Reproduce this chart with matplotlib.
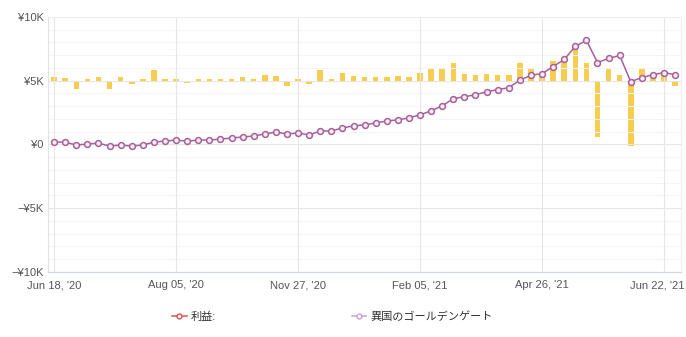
import matplotlib
matplotlib.use("Agg")
import matplotlib.pyplot as plt
import matplotlib.transforms as mtransforms
from matplotlib.lines import Line2D
import numpy as np

plt.rcParams['font.family'] = ['Liberation Sans', 'Noto Sans CJK JP', 'DejaVu Sans']

# category axis: one point per week, a label every 11 points
tick_idx = [0, 11, 22, 33, 44, 55]
tick_labels = ["Jun 18, '20", "Aug 05, '20", "Nov 27, '20", "Feb 05, '21", "Apr 26, '21", "Jun 22, '21"]

# weekly profit bars (drawn on a hidden secondary scale, in K)
profit = [0.3, 0.2, -0.65, 0.15, 0.3, -0.65, 0.3, -0.25, 0.15, 0.8,
          0.15, 0.15, -0.2, 0.15, 0.15, 0.15, 0.15, 0.3, 0.15, 0.45,
          0.4, -0.4, 0.15, -0.3, 0.8, 0.15, 0.6, 0.4, 0.3, 0.3,
          0.3, 0.4, 0.3, 0.6, 0.95, 0.95, 1.4, 0.55, 0.45, 0.55,
          0.45, 0.45, 1.35, 0.95, 0.55, 1.5, 1.5, 2.55, 1.4, -4.4,
          0.95, 0.45, -5.1, 1.0, 0.55, 0.55, -0.4]

# cumulative balance line (K)
balance = [0.18, 0.18, -0.05, 0.03, 0.1, -0.13, -0.05, -0.13, -0.05, 0.18,
           0.26, 0.34, 0.26, 0.34, 0.34, 0.42, 0.5, 0.58, 0.66, 0.82,
           0.97, 0.82, 0.89, 0.74, 1.05, 1.05, 1.29, 1.45, 1.53, 1.68,
           1.84, 1.92, 2.08, 2.32, 2.63, 3.03, 3.58, 3.74, 3.89, 4.13,
           4.29, 4.45, 5.03, 5.42, 5.55, 6.1, 6.66, 7.68, 8.16, 6.42,
           6.74, 6.97, 4.92, 5.24, 5.47, 5.63, 5.47]

x = np.arange(len(balance))

fig = plt.figure(figsize=(6.86, 3.37), dpi=100)
ax = fig.add_axes([0.070, 0.193, 0.923, 0.757])
ax2 = ax.twinx()

# grid
for v in range(-10, 11):
    if v % 5 == 0:
        ax.axhline(v, color='#e6e6e6', lw=0.8, zorder=0)
    else:
        ax.axhline(v, color='#f5f5f5', lw=0.8, zorder=0)
for t in tick_idx:
    ax.axvline(t, color='#e6e6e6', lw=0.8, zorder=0)

ax2.bar(x, profit, width=0.5, color='#f6cd4f', zorder=1)
ax2.set_ylim(-15, 5)
ax2.axis('off')

ax.set_zorder(ax2.get_zorder() + 1)
ax.patch.set_visible(False)
ax.plot(x, balance, color='#a9609a', lw=1.1, marker='o', markersize=4.2,
        markerfacecolor='#fbeef6', markeredgecolor='#a9609a', markeredgewidth=1.1, zorder=3)

ax.set_xlim(-0.55, 56.55)
ax.set_ylim(-10, 10)
ax2.set_xlim(-0.55, 56.55)
ax.set_yticks([-10, -5, 0, 5, 10])
ax.set_yticklabels(['\u2212¥10K', '\u2212¥5K', '¥0', '¥5K', '¥10K'])
ax.set_xticks(tick_idx)
ax.set_xticklabels(tick_labels)
ax.tick_params(axis='both', length=0, labelsize=8, labelcolor='#555555', pad=3)
ax.tick_params(axis='x', pad=6)

# last label is pushed left so it stays inside the figure
last = ax.get_xticklabels()[-1]
last.set_transform(last.get_transform() + mtransforms.ScaledTranslation(-7 / 100, 0, fig.dpi_scale_trans))

for s in ['top', 'right']:
    ax.spines[s].set_color('#eeeeee')
    ax.spines[s].set_linewidth(0.8)
ax.spines['left'].set_color('#dfe3ea')
ax.spines['bottom'].set_color('#ccd6eb')
ax.spines['left'].set_linewidth(0.8)
ax.spines['bottom'].set_linewidth(0.8)

handles = [
    Line2D([], [], color='#d9534f', lw=1.1, marker='o', markersize=3.5,
           markerfacecolor='white', markeredgecolor='#d9534f'),
    Line2D([], [], color='#c7a2d6', lw=1.1, marker='o', markersize=3.5,
           markerfacecolor='white', markeredgecolor='#c7a2d6'),
]
fig.legend(handles, ['利益:', '異国のゴールデンゲート'], loc='center',
           bbox_to_anchor=(0.485, 0.06), ncol=2, frameon=False, fontsize=8,
           handlelength=1.3, handletextpad=0.4, columnspacing=12.2,
           labelcolor='#333333')

fig.savefig('out.png', dpi=100)
